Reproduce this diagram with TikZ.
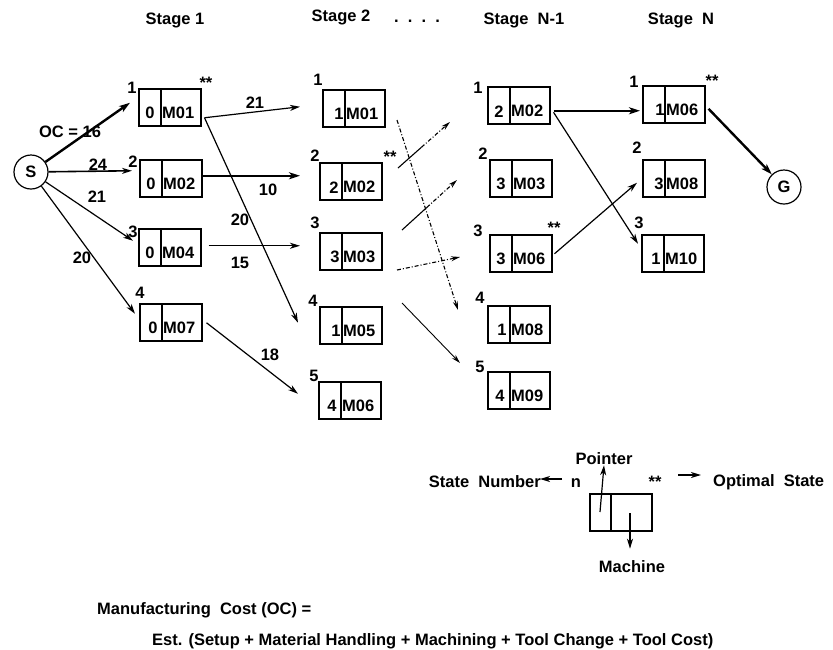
\documentclass[tikz,border=0pt]{standalone}
\usepackage{fontspec}
\setmainfont{Liberation Sans}
\usetikzlibrary{arrows.meta,calc}
\newcommand\stbox[6]{%
  \node[stbx, anchor=north west] (#1) at (#2,#3) {};
  \draw[boxline] ($(#1.north west)+(23,0)$) -- ($(#1.south west)+(23,0)$);
  \node[txt] (#1p) at ($(#1.west)+(#6,6)$) {#4};
  \node[txt, anchor=west] (#1m) at ($(#1.west)+(24,6)$) {#5};
}
\begin{document}
\begin{tikzpicture}[x=1pt,y=-1pt,
  txt/.style={inner sep=0pt, font=\fontsize{16.5}{18}\selectfont\bfseries},
  stbx/.style={draw, line width=1.5pt, minimum width=62pt, minimum height=37pt, inner sep=0pt},
  boxline/.style={line width=1.1pt},
  conn/.style={line width=1.2pt, -{Stealth[length=10pt,width=6pt,inset=3pt]}},
  thk/.style={line width=2.4pt, -{Stealth[length=11pt,width=7pt,inset=3pt]}},
  dsh/.style={line width=1.1pt, dash pattern=on 4pt off 2pt on 1pt off 2pt},
  circ/.style={draw, circle, line width=1.2pt, minimum size=34pt, inner sep=0pt, font=\fontsize{16.5}{18}\selectfont\bfseries}]
\useasboundingbox (0,0) rectangle (833,649);

% stage headings
\node[txt] (h1) at (175,20) {Stage 1};
\node[txt] (h2) at (341,17) {Stage 2};
\node[txt] (hd) at (417,21) {.\ \ .\ \ .\ \ .};
\node[txt] (h3) at (524,20) {Stage\ \ N-1};
\node[txt] (h4) at (681,20) {Stage\ \ N};

% start / goal
\node[circ] (S) at (31,172) {\raisebox{-3pt}{S}};
\node[circ] (G) at (784,187) {\raisebox{-3pt}{G}};

% stage 1
\stbox{a1}{138}{88}{0}{M01}{12}
\stbox{a2}{139}{159}{0}{M02}{12}
\stbox{a3}{138}{228}{0}{M04}{12}
\stbox{a4}{139}{303}{0}{M07}{14}
\node[txt] (a1n) at (132,88) {1};
\node[txt] (a2n) at (133,162) {2};
\node[txt] (a3n) at (133,232) {3};
\node[txt] (a4n) at (140,293) {4};
\node[txt] (a1s) at (206,83) {**};

% stage 2
\stbox{b1}{322}{89}{1}{M01}{17}
\stbox{b2}{319}{162}{2}{M02}{15}
\stbox{b3}{319}{232}{3}{M03}{16}
\stbox{b4}{319}{306}{1}{M05}{17}
\stbox{b5}{318}{381}{4}{M06}{14}
\node[txt] (b1n) at (318,80) {1};
\node[txt] (b2n) at (315,156) {2};
\node[txt] (b3n) at (315,223) {3};
\node[txt] (b4n) at (313,301) {4};
\node[txt] (b5n) at (314,376) {5};
\node[txt] (b2s) at (390,157) {**};

% stage N-1
\stbox{c1}{487}{86}{2}{M02}{12}
\stbox{c2}{489}{159}{3}{M03}{12}
\stbox{c3}{489}{234}{3}{M06}{12}
\stbox{c4}{487}{305}{1}{M08}{15}
\stbox{c5}{487}{371}{4}{M09}{13}
\node[txt] (c1n) at (478,88) {1};
\node[txt] (c2n) at (483,154) {2};
\node[txt] (c3n) at (478,231) {3};
\node[txt] (c4n) at (480,298) {4};
\node[txt] (c5n) at (480,367) {5};
\node[txt] (c3s) at (554,228) {**};

% stage N
\stbox{d1}{642}{85}{1}{M06}{18}
\stbox{d2}{642}{159}{3}{M08}{17}
\stbox{d3}{641}{234}{1}{M10}{15}
\node[txt] (d1n) at (634,82) {1};
\node[txt] (d2n) at (637,148) {2};
\node[txt] (d3n) at (639,223) {3};
\node[txt] (d1s) at (712,81) {**};

% S -> stage 1
\draw[thk] (S) -- ($(a1.west)+(-8,-4.5)$);
\draw[conn, line width=1.6pt] (S) -- ($(a2.west)+(-7,-7.5)$);
\draw[conn] (S) -- ($(a3.west)+(-5,-6.5)$);
\draw[conn] (S) -- ($(a4.west)+(-4,-8.5)$);
\node[txt] (l1) at (70,132) {OC = 16};
\node[txt] (l2) at (98,165) {24};
\node[txt] (l3) at (97,197) {21};
\node[txt] (l4) at (82,258) {20};

% stage 1 -> stage 2
\draw[conn] ($(a1.east)+(3,10.5)$) -- ($(b1.west)+(-22,-1.5)$);
\draw[conn] ($(a1.east)+(3,10.5)$) -- ($(b4.west)+(-21,-2.5)$);
\draw[thk] ($(a2.east)+(0,-2.5)$) -- ($(b2.west)+(-19,-5.5)$);
\draw[conn] ($(a3.east)+(7,-1.5)$) -- ($(b3.west)+(-19,-5.5)$);
\draw[conn] ($(a4.east)+(4,0.5)$) -- ($(b5.west)+(-20,-6.5)$);
\node[txt] (l5) at (255,103) {21};
\node[txt] (l6) at (240,220) {20};
\node[txt] (l7) at (268,190) {10};
\node[txt] (l8) at (240,263) {15};
\node[txt] (l9) at (270,355) {18};

% crossing lines between stage 2 and stage N-1
\coordinate (m0s) at (397,120); \coordinate (m0e) at (458,310);
\coordinate (m1s) at (398,168); \coordinate (m1e) at (450,122);
\coordinate (m2s) at (402,230); \coordinate (m2e) at (457,180);
\coordinate (m3s) at (397,270); \coordinate (m3e) at (460,257);
\coordinate (m4s) at (402,303); \coordinate (m4e) at (460,363);
\draw[dsh, -{Stealth[length=9pt,width=5pt,inset=3pt]}] (m0s) -- (m0e);
\draw[line width=1.1pt] (m1s) -- ($(m1s)!0.45!(m1e)$);
\draw[dsh, -{Stealth[length=9pt,width=5pt,inset=3pt]}] ($(m1s)!0.45!(m1e)$) -- (m1e);
\draw[line width=1.1pt] (m2s) -- ($(m2s)!0.45!(m2e)$);
\draw[dsh, -{Stealth[length=9pt,width=5pt,inset=3pt]}] ($(m2s)!0.45!(m2e)$) -- (m2e);
\draw[dsh, -{Stealth[length=9pt,width=5pt,inset=3pt]}] (m3s) -- (m3e);
\draw[line width=0.9pt, -{Stealth[length=9pt,width=5pt,inset=3pt]}] (m4s) -- (m4e);

% stage N-1 -> stage N
\draw[thk] ($(c1.east)+(3,5.5)$) -- ($(d1.west)+(-2,6.5)$);
\draw[conn] ($(c1.east)+(3,7)$) -- ($(d3.west)+(-3,-9.5)$);
\draw[conn] ($(c3.east)+(2,0.5)$) -- ($(d2.west)+(-5,4.5)$);
\draw[thk] ($(d1.east)+(3,4.5)$) -- (G);

% legend
\node[stbx, anchor=north west] (lg) at (589,493) {};
\draw[boxline] ($(lg.north west)+(22,0)$) -- ($(lg.south west)+(22,0)$);
\coordinate (pp) at (600,512);
\coordinate (mp) at (630,513);
\node[txt] (ptr) at (604,459) {Pointer};
\node[txt] (mch) at (632,567) {Machine};
\node[txt] (nn) at (576,483) {n};
\node[txt] (ls) at (655,482) {**};
\node[txt, anchor=east] (sn) at (541,482) {State\ \ Number};
\node[txt, anchor=west] (os) at (713,482) {Optimal\ \ State};
\coordinate (snx) at (540,479);
\coordinate (sns) at (562,479);
\coordinate (ops) at (678,475);
\coordinate (ope) at (701,475);
\draw[conn] (pp) -- (ptr.south);
\draw[conn] (mp) -- ($(mch.north)+(-2,-12)$);
\draw[conn] (sns) -- (snx);
\draw[conn] (ops) -- (ope);

% formula
\node[txt, anchor=west] (f1) at (97,610) {Manufacturing\ \ Cost (OC) =};
\node[txt, anchor=west] (f2) at (152,641) {Est. (Setup + Material Handling + Machining + Tool Change + Tool Cost)};
\end{tikzpicture}
\end{document}
